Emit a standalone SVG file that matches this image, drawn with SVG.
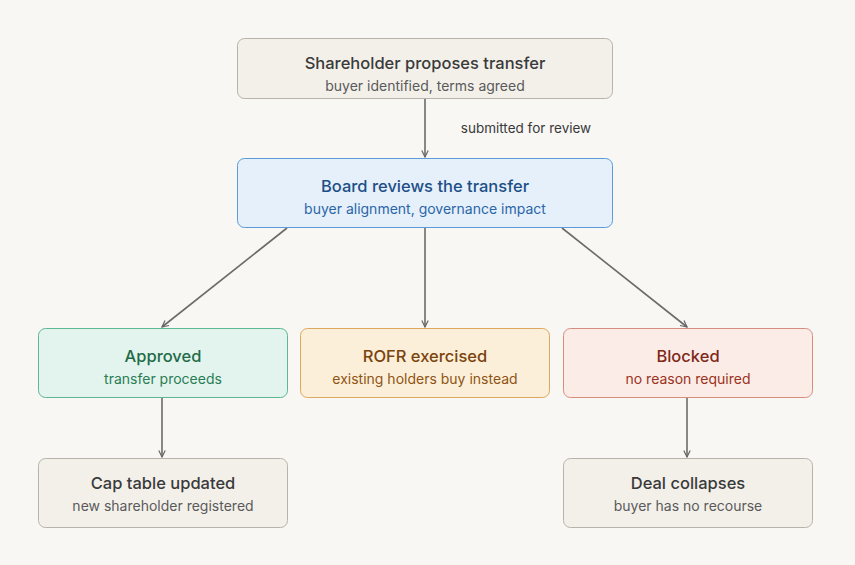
<svg xmlns="http://www.w3.org/2000/svg" width="855" height="565" viewBox="0 0 855 565">
<defs>
<marker id="ah" viewBox="0 0 10 10" refX="9" refY="5" markerWidth="8" markerHeight="8" orient="auto-start-reverse" markerUnits="userSpaceOnUse"><path d="M1,1 L9,5 L1,9" fill="none" stroke="#666" stroke-width="1.5"/></marker>
<style>
text{font-family:Inter,"Noto Sans",sans-serif;text-anchor:middle}
.t{font-size:16.5px;font-weight:500}
.s{font-size:14px}
.n{fill:#f3f0ea;stroke:#b8b3aa}
.nt{fill:#3a3a3a}.ns{fill:#5a5a5a}
.c line{stroke:#6b6b6b;stroke-width:1.6;marker-end:url(#ah)}
</style>
</defs>
<rect width="855" height="565" fill="#f8f7f4"/>
<g class="c">
<line x1="425" y1="98" x2="425" y2="157"/>
<line x1="287" y1="228" x2="162" y2="327"/>
<line x1="425" y1="228" x2="425" y2="327"/>
<line x1="562" y1="228" x2="687" y2="327"/>
<line x1="162" y1="398" x2="162" y2="457"/>
<line x1="687" y1="398" x2="687" y2="457"/>
<text x="526" y="133" class="s" style="font-size:13.5px" fill="#3a3a3a">submitted for review</text>
</g>
<g id="propose"><rect x="237.5" y="38.5" width="375" height="60" rx="7" class="n"/><text x="425" y="69" class="t nt">Shareholder proposes transfer</text><text x="425" y="91" class="s ns">buyer identified, terms agreed</text></g>
<g id="board"><rect x="237.5" y="158.5" width="375" height="69" rx="7" fill="#e5f0fb" stroke="#5b9bd8"/><text x="425" y="192" class="t" fill="#1d4f86">Board reviews the transfer</text><text x="425" y="214" class="s" fill="#2b66a8">buyer alignment, governance impact</text></g>
<g id="approved"><rect x="38.5" y="328.5" width="249" height="69" rx="7" fill="#e3f4ee" stroke="#5cb792"/><text x="163" y="362" class="t" fill="#1f6b47">Approved</text><text x="163" y="384" class="s" fill="#2a7d55">transfer proceeds</text></g>
<g id="rofr"><rect x="300.5" y="328.5" width="249" height="69" rx="7" fill="#fcefd9" stroke="#dba85e"/><text x="425" y="362" class="t" fill="#7a430c">ROFR exercised</text><text x="425" y="384" class="s" fill="#8e5414">existing holders buy instead</text></g>
<g id="blocked"><rect x="563.5" y="328.5" width="249" height="69" rx="7" fill="#fbece8" stroke="#d58e7e"/><text x="688" y="362" class="t" fill="#7f2818">Blocked</text><text x="688" y="384" class="s" fill="#9a3320">no reason required</text></g>
<g id="captable"><rect x="38.5" y="458.5" width="249" height="69" rx="7" class="n"/><text x="163" y="489" class="t nt">Cap table updated</text><text x="163" y="511" class="s ns">new shareholder registered</text></g>
<g id="collapse"><rect x="563.5" y="458.5" width="249" height="69" rx="7" class="n"/><text x="688" y="489" class="t nt">Deal collapses</text><text x="688" y="511" class="s ns">buyer has no recourse</text></g>
</svg>
